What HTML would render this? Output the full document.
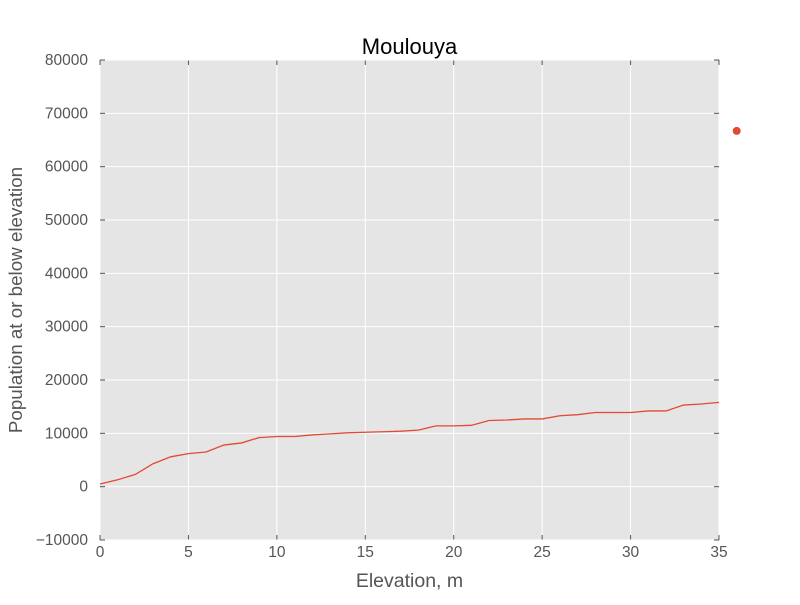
<!DOCTYPE html>
<html><head><meta charset="utf-8"><style>
body{margin:0;background:#fff;width:800px;height:600px;overflow:hidden}
svg text{font-family:"Liberation Sans",sans-serif}
</style></head><body>
<svg id="chart" width="800" height="600"></svg>
<script>
const xValues=[0,1,2,3,4,5,6,7,8,9,10,11,12,13,14,15,16,17,18,19,20,21,22,23,24,25,26,27,28,29,30,31,32,33,34,35];
const popValues=[500,1300,2300,4300,5600,6200,6500,7800,8200,9200,9400,9400,9700,9900,10100,10200,10300,10400,10600,11400,11400,11500,12400,12500,12700,12700,13300,13500,13900,13900,13900,14200,14200,15300,15500,15800];
const outlierPoint=[36,66700];
const xTicks=[0,5,10,15,20,25,30,35];
const yTicks=[-10000,0,10000,20000,30000,40000,50000,60000,70000,80000];
const L=100,R=719,T=60,B=540;
const xs=v=>L+(v-0)/(35-0)*(R-L);
const ys=v=>B-(v+10000)/90000*(B-T);
const NS='http://www.w3.org/2000/svg';
const svg=document.getElementById('chart');
function mk(tag,attrs,parent){const e=document.createElementNS(NS,tag);for(const k in attrs)e.setAttribute(k,attrs[k]);(parent||svg).appendChild(e);return e;}
const bg=mk('rect',{x:L,y:T,width:R-L,height:B-T,fill:'#e5e5e5'});


xTicks.forEach(t=>{const x=xs(t);
 const g=mk('line',{x1:x,x2:x,y1:T,y2:B,stroke:'#fff','stroke-width':1});
 
 
 mk('line',{x1:x,x2:x,y1:B,y2:B-5,stroke:'#555'});
 mk('line',{x1:x,x2:x,y1:T,y2:T+5,stroke:'#555'});
 const tx=mk('text',{x:x,y:B+17,'text-anchor':'middle','font-size':15.5,fill:'#555'});tx.textContent=t;
 
 
});
yTicks.forEach(t=>{const y=ys(t);
 const g=mk('line',{x1:L,x2:R,y1:y,y2:y,stroke:'#fff','stroke-width':1});
 
 
 mk('line',{x1:L,x2:L+5,y1:y,y2:y,stroke:'#555'});
 mk('line',{x1:R,x2:R-5,y1:y,y2:y,stroke:'#555'});
 const tx=mk('text',{x:L-12,y:y+5,'text-anchor':'end','font-size':15.5,fill:'#555'});tx.textContent=t<0?'\u2212'+(-t):t;
 
 
});
const line=mk('polyline',{points:xValues.map((v,i)=>xs(v)+','+ys(popValues[i])).join(' '),fill:'none',stroke:'#e24a33','stroke-width':1.3});


const dot=mk('circle',{cx:xs(outlierPoint[0]),cy:ys(outlierPoint[1]),r:4,fill:'#e24a33'});


const title=mk('text',{x:(L+R)/2,y:54,'text-anchor':'middle','font-size':22,fill:'#000'});title.textContent='Moulouya';


const xl=mk('text',{x:(L+R)/2,y:587,'text-anchor':'middle','font-size':19.5,fill:'#555'});xl.textContent='Elevation, m';


const yl=mk('text',{x:0,y:0,'text-anchor':'middle','font-size':18.8,fill:'#555',transform:'translate(22,300) rotate(-90)'});yl.textContent='Population at or below elevation';


</script>
</body></html>
